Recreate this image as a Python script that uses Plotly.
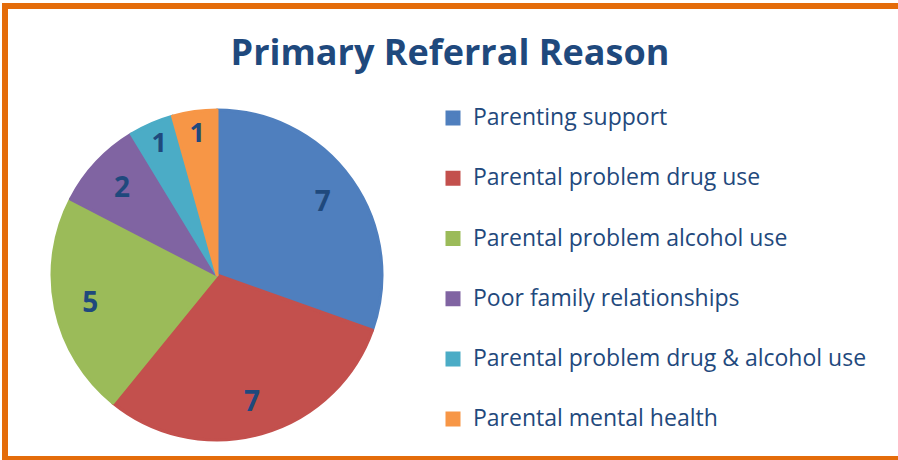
import plotly.graph_objects as go

labels = ["Parenting support", "Parental problem drug use", "Parental problem alcohol use",
          "Poor family relationships", "Parental problem drug & alcohol use", "Parental mental health"]
values = [7, 7, 5, 2, 1, 1]
colors = ["#4F7FBE", "#C3504D", "#9BBB59", "#8064A2", "#4BACC6", "#F79646"]

W, H = 898, 460
TXT = "#1F497D"
BORDER = "#E46C0A"

legend_labels = ['<span style="font-size:23px;baseline-shift:10px">%s</span>' % l for l in labels]
pie_domain = dict(x=[52 / W, 382 / W], y=[(H - 440) / H, (H - 110) / H])

fig = go.Figure()
# coloured slices + legend
fig.add_trace(go.Pie(
    labels=legend_labels,
    values=values,
    sort=False,
    direction="clockwise",
    rotation=0,
    marker=dict(colors=colors, line=dict(color=colors, width=3)),
    textinfo="none",
    hoverinfo="label+value",
    domain=pie_domain,
))
# transparent ring that carries the value labels near the outer edge
fig.add_trace(go.Pie(
    labels=labels,
    values=values,
    sort=False,
    direction="clockwise",
    rotation=0,
    hole=0.57,
    marker=dict(colors=["rgba(0,0,0,0)"] * len(values), line=dict(width=0)),
    textinfo="value",
    textposition="inside",
    insidetextorientation="horizontal",
    textfont=dict(family="Open Sans", size=28, color=TXT, weight="bold"),
    hoverinfo="skip",
    showlegend=False,
    domain=pie_domain,
))

fig.update_layout(
    width=W, height=H,
    margin=dict(l=0, r=0, t=0, b=0),
    paper_bgcolor="white",
    plot_bgcolor="white",
    title=dict(text="<b>Primary Referral Reason</b>", x=450 / W, xanchor="center",
               y=1 - 52 / H, yanchor="middle",
               font=dict(family="Open Sans", size=36, color=TXT)),
    legend=dict(x=433 / W, xanchor="left", y=1 - 83 / H, yanchor="top",
                font=dict(family="Open Sans", size=44, color=TXT),
                bgcolor="rgba(0,0,0,0)", traceorder="normal"),
    shapes=[dict(type="path", xref="paper", yref="paper",
                 path="M 1.0,%f L %f,%f L %f,%f L 1.0,%f" % (
                     1 - 6 / H, 5 / W, 1 - 6 / H, 5 / W, 1 - 459 / H, 1 - 459 / H),
                 line=dict(color=BORDER, width=6), layer="above")],
)

fig.write_html("out.html", config={"displayModeBar": False},
               post_script="document.body.style.margin='0';")
